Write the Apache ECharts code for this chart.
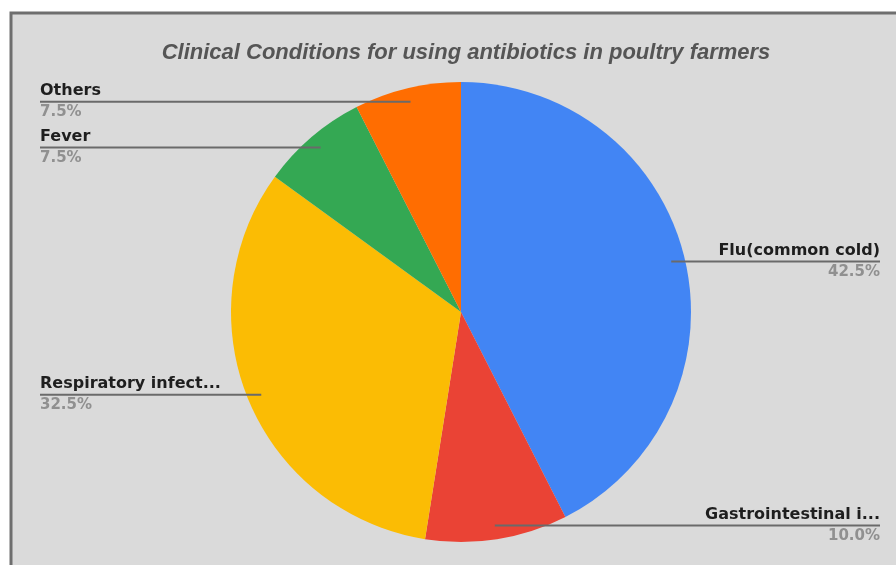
<!DOCTYPE html>
<html>
<head>
<meta charset="utf-8">
<script src="https://cdn.jsdelivr.net/npm/echarts@6/dist/echarts.min.js"></script>
<style>
  html, body { margin: 0; padding: 0; background: #ffffff; }
  #chart { width: 896px; height: 565px; }
</style>
</head>
<body>
<div id="chart"></div>
<script>
// ---- data ----
const categories = ['Flu(common cold)', 'Gastrointestinal i...', 'Respiratory infect...', 'Fever', 'Others'];
const values = [42.5, 10.0, 32.5, 7.5, 7.5];
const colors = ['#4285f4', '#ea4335', '#fbbc04', '#34a853', '#ff6d01'];
const titleText = 'Clinical Conditions for using antibiotics in poultry farmers';

// ---- layout ----
const CX = 461, CY = 312, R = 230;
const DOT_K = 0.94;
const LEFT_X = 40;
const RIGHT_X = 880;
const LABEL_FONT = 'DejaVu Sans, Verdana, sans-serif';

const chart = echarts.init(document.getElementById('chart'), null, { renderer: 'canvas' });

function labelLayout(params) {
  const p0 = params.labelLinePoints[0];
  const dx = p0[0] - CX, dy = p0[1] - CY;
  const dot = [CX + dx * DOT_K, CY + dy * DOT_K];
  const ex = dx < 0 ? LEFT_X : RIGHT_X;
  return {
    x: ex, y: dot[1], align: dx < 0 ? 'left' : 'right', verticalAlign: 'middle',
    labelLinePoints: [dot, [(dot[0] + ex) / 2, dot[1]], [ex, dot[1]]]
  };
}

const option = {
  backgroundColor: '#ffffff',
  animation: false,
  graphic: [
    {
      type: 'rect',
      z: -10,
      shape: { x: 11, y: 13, width: 920, height: 600 },
      style: { fill: '#dadada', stroke: '#6e6e6e', lineWidth: 3 }
    }
  ],
  title: {
    text: titleText,
    left: 461,
    textAlign: 'center',
    top: 37,
    textStyle: {
      fontFamily: 'Liberation Sans, Arial, sans-serif',
      fontStyle: 'italic',
      fontWeight: 'bold',
      fontSize: 22,
      color: '#555555'
    }
  },
  series: [
    {
      type: 'pie',
      z: 2,
      center: [CX, CY],
      radius: [0, R],
      startAngle: 90,
      clockwise: true,
      avoidLabelOverlap: false,
      data: categories.map((c, i) => ({ name: c, value: values[i], itemStyle: { color: colors[i] } })),
      itemStyle: { borderWidth: 0 },
      label: { show: false },
      labelLine: { show: false }
    },
    {
      type: 'pie',
      z: 5,
      silent: true,
      center: [CX, CY],
      radius: [0, R],
      startAngle: 90,
      clockwise: true,
      avoidLabelOverlap: false,
      data: categories.map((c, i) => ({ name: c, value: values[i] })),
      itemStyle: { color: 'rgba(0,0,0,0)', borderWidth: 0 },
      label: {
        show: true,
        position: 'outside',
        formatter: p => '{n|' + p.name + '}\n{p|' + p.value.toFixed(1) + '%}',
        rich: {
          n: { fontFamily: LABEL_FONT, fontWeight: 'bold', fontSize: 16, color: '#1e1e1e', lineHeight: 21 },
          p: { fontFamily: LABEL_FONT, fontWeight: 'bold', fontSize: 15, color: '#909090', lineHeight: 21 }
        }
      },
      labelLine: {
        show: true,
        lineStyle: { color: '#6a6a6a', width: 2 }
      },
      labelLayout: labelLayout
    }
  ]
};
chart.setOption(option);
</script>
</body>
</html>
